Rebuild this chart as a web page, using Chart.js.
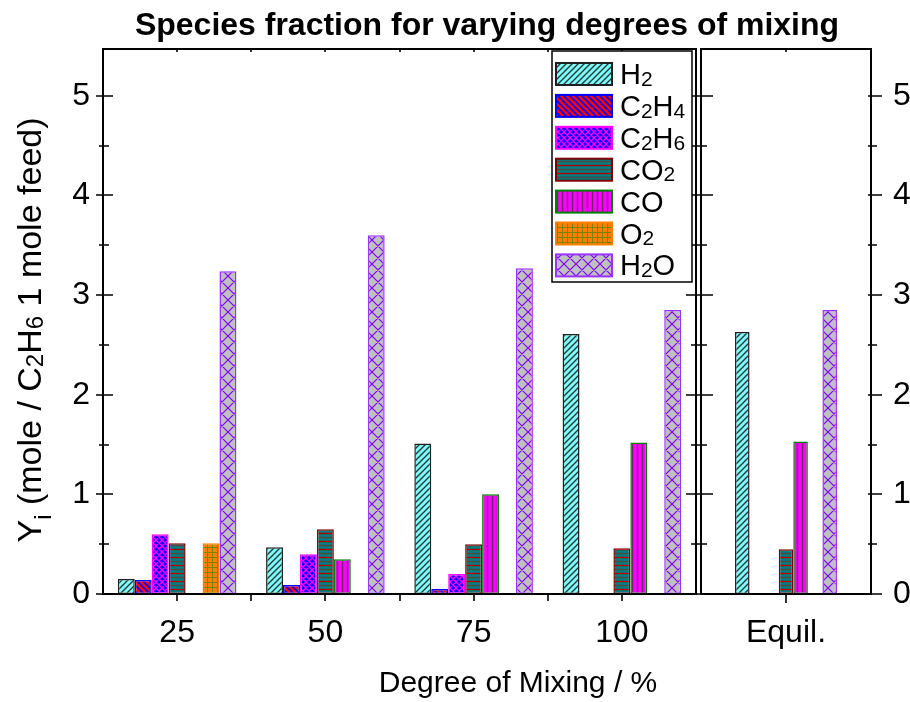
<!DOCTYPE html>
<html>
<head>
<meta charset="utf-8">
<title>Species fraction for varying degrees of mixing</title>
<script src="https://cdn.jsdelivr.net/npm/chart.js@4.4.0/dist/chart.umd.min.js"></script>
<style>
  html, body { margin: 0; padding: 0; background: #fff; }
  #wrap { position: relative; width: 910px; height: 702px; }
  #wrap canvas { position: absolute; left: 0; top: 0; }
</style>
</head>
<body>
<div id="wrap">
  <canvas id="mixChart" width="910" height="702"></canvas>
  <canvas id="equilChart" width="910" height="702"></canvas>
</div>
<script>
// mixing degree (%) categories and the equilibrium column
const mixingLevels = ['25', '50', '75', '100'];
const equilLabels = ['Equil.'];
const species = ['H2', 'C2H4', 'C2H6', 'CO2', 'CO', 'O2', 'H2O'];

// mole per 1 mole C2H6 feed, one value per mixing level
const h2   = [0.15, 0.47, 1.51, 2.61];
const c2h4 = [0.14, 0.09, 0.05, 0];
const c2h6 = [0.60, 0.40, 0.20, 0];
const co2  = [0.51, 0.65, 0.50, 0.46];
const co   = [0, 0.35, 1.00, 1.52];
const o2   = [0.51, 0.005, 0, 0];
const h2o  = [3.24, 3.60, 3.27, 2.85];

// equilibrium composition, same species order
const equilValues = [2.63, 0, 0, 0.45, 1.53, 0, 2.85];

const yMax = 5.47;
const FONT = "'Liberation Sans', Arial, sans-serif";

// hatch fills
function makePattern(bg, fg, kind, size, lw) {
  const c = document.createElement('canvas');
  c.width = c.height = size;
  const g = c.getContext('2d');
  g.fillStyle = bg;
  g.fillRect(0, 0, size, size);
  g.strokeStyle = fg;
  g.lineWidth = lw;
  g.beginPath();
  const s = size;
  if (kind === 'fwd' || kind === 'cross') {
    g.moveTo(-1, s + 1); g.lineTo(s + 1, -1);
    g.moveTo(-1, 1); g.lineTo(1, -1);
    g.moveTo(s - 1, s + 1); g.lineTo(s + 1, s - 1);
  }
  if (kind === 'back' || kind === 'cross') {
    g.moveTo(-1, -1); g.lineTo(s + 1, s + 1);
    g.moveTo(s - 1, -1); g.lineTo(s + 1, 1);
    g.moveTo(-1, s - 1); g.lineTo(1, s + 1);
  }
  if (kind === 'vert' || kind === 'grid') {
    g.moveTo(s / 2, 0); g.lineTo(s / 2, s);
  }
  if (kind === 'grid') {
    g.moveTo(0, s / 2); g.lineTo(s, s / 2);
  }
  g.stroke();
  if (kind === 'horiz2') {
    g.lineWidth = lw;
    g.strokeStyle = '#4a4a4a';
    g.beginPath(); g.moveTo(0, 1.5); g.lineTo(s, 1.5); g.stroke();
    g.strokeStyle = '#b00000';
    g.beginPath(); g.moveTo(0, s / 2 + 1.5); g.lineTo(s, s / 2 + 1.5); g.stroke();
  }
  return g.createPattern(c, 'repeat');
}

const styles = [
  { fill: makePattern('#80ffff', '#203838', 'fwd', 6, 1.4), border: '#202020' },
  { fill: makePattern('#ff0000', '#0000ff', 'back', 6, 1.6), border: '#0000ff' },
  { fill: makePattern('#0000ff', '#ff00ff', 'cross', 6, 1.3), border: '#ff00ff' },
  { fill: makePattern('#008080', '#4a4a4a', 'horiz2', 8, 1.5), border: '#800000' },
  { fill: makePattern('#ff00ff', '#6a2a6a', 'vert', 5, 1.4), border: '#008000' },
  { fill: makePattern('#ff8000', '#808000', 'grid', 5, 1), border: '#ff8000' },
  { fill: makePattern('#c0c0c0', '#8000ff', 'cross', 12, 1.2), border: '#9933ff' }
];

const mixSeries = [h2, c2h4, c2h6, co2, co, o2, h2o];

// text with subscripts: segments of [text, isSub]
function drawRich(ctx, segs, x, y, size, align) {
  const subSize = Math.round(size * 0.72);
  const widthOf = ([t, sub]) => {
    ctx.font = (sub ? subSize : size) + 'px ' + FONT;
    return ctx.measureText(t).width;
  };
  const total = segs.reduce((w, s) => w + widthOf(s), 0);
  let cx = align === 'center' ? x - total / 2 : x;
  ctx.textBaseline = 'alphabetic';
  ctx.textAlign = 'left';
  segs.forEach(seg => {
    const [t, sub] = seg;
    ctx.font = (sub ? subSize : size) + 'px ' + FONT;
    const dy = sub === 2 ? size * 0.28 : sub ? size * 0.06 : 0;
    ctx.fillText(t, cx, y + dy);
    cx += ctx.measureText(t).width;
  });
}

function chemSegs(name) {
  return name.split(/(\d+)/).filter(Boolean).map(p => [p, /\d/.test(p) ? 1 : 0]);
}

// box, tick marks and minor ticks drawn from the chart's scales
function frameTicks(cfg) {
  return {
    id: 'frameTicks',
    afterDraw(chart) {
      const { ctx, chartArea: a } = chart;
      const ys = chart.scales[cfg.yId];
      const xs = chart.scales.x;
      ctx.save();
      ctx.strokeStyle = '#000';
      ctx.lineWidth = 2;
      ctx.strokeRect(a.left, a.top, a.right - a.left, a.bottom - a.top);
      ctx.lineWidth = 1.6;
      ctx.beginPath();
      ys.ticks.forEach(t => {
        if (t.value > 5.001) return;
        const py = Math.round(ys.getPixelForValue(t.value));
        const major = Math.abs(t.value - Math.round(t.value)) < 1e-6;
        cfg.yEdges.forEach(e => {
          const ex = e.side === 'left' ? a.left : a.right;
          const dir = e.side === 'left' ? 1 : -1;
          const [out, inn] = major ? e.major : e.minor;
          ctx.moveTo(ex - dir * out, py);
          ctx.lineTo(ex + dir * inn, py);
        });
      });
      const n = xs.ticks.length;
      for (let i = 0; i < n; i++) {
        const px = Math.round(xs.getPixelForTick(i));
        ctx.moveTo(px, a.bottom); ctx.lineTo(px, a.bottom + cfg.xTick);
        ctx.moveTo(px, a.top); ctx.lineTo(px, a.top + 3);
        if (cfg.between && i < n - 1) {
          const bx = Math.round((xs.getPixelForTick(i) + xs.getPixelForTick(i + 1)) / 2);
          ctx.moveTo(bx, a.bottom); ctx.lineTo(bx, a.bottom + cfg.xTick);
          ctx.moveTo(bx, a.top); ctx.lineTo(bx, a.top + 3);
        }
      }
      ctx.stroke();
      ctx.restore();
    }
  };
}

// title, axis titles and the species key
const decorations = {
  id: 'decorations',
  afterDraw(chart) {
    const { ctx } = chart;
    ctx.save();
    ctx.fillStyle = '#000';
    ctx.textAlign = 'center';
    ctx.textBaseline = 'middle';
    ctx.font = 'bold 32px ' + FONT;
    ctx.fillText('Species fraction for varying degrees of mixing', 487, 26);

    ctx.font = '30px ' + FONT;
    ctx.fillText('Degree of Mixing / %', 518, 684);

    ctx.save();
    ctx.translate(41, 330);
    ctx.rotate(-Math.PI / 2);
    drawRich(ctx, [['Y', 0], ['i', 2], [' (mole / C', 0], ['2', 1], ['H', 0], ['6', 1], [' 1 mole feed)', 0]], 0, 0, 34, 'center');
    ctx.restore();

    // key box
    const bx = 552, by = 51, bw = 140, bh = 231;
    ctx.fillStyle = '#fff';
    ctx.fillRect(bx, by, bw, bh);
    ctx.strokeStyle = '#000';
    ctx.lineWidth = 1.5;
    ctx.strokeRect(bx, by, bw, bh);
    chart.data.datasets.forEach((ds, i) => {
      const ry = 63 + i * 31.9;
      ctx.fillStyle = ds.backgroundColor;
      ctx.fillRect(556, ry, 56, 22);
      ctx.strokeStyle = ds.borderColor;
      ctx.lineWidth = 2;
      ctx.strokeRect(556, ry, 56, 22);
      ctx.fillStyle = '#000';
      drawRich(ctx, chemSegs(ds.label), 620, ry + 21, 29, 'left');
    });
    ctx.restore();
  }
};

function datasetsFor(values) {
  return species.map((name, i) => ({
    label: name,
    data: values[i],
    backgroundColor: styles[i].fill,
    borderColor: styles[i].border,
    borderWidth: 1.5,
    borderSkipped: false
  }));
}

const tickFont = { family: FONT, size: 32 };

new Chart(document.getElementById('mixChart'), {
  type: 'bar',
  data: { labels: mixingLevels, datasets: datasetsFor(mixSeries) },
  options: {
    responsive: false,
    animation: false,
    layout: { padding: { left: 0, top: 49, right: 214, bottom: 0 } },
    datasets: { bar: { categoryPercentage: 0.8, barPercentage: 1.0 } },
    plugins: { legend: { display: false }, tooltip: { enabled: false } },
    scales: {
      x: {
        grid: { display: false, drawTicks: false },
        border: { display: false },
        ticks: { font: tickFont, color: '#000', padding: 20, maxRotation: 0, autoSkip: false },
        afterFit: s => { s.height = 108; }
      },
      y: {
        min: 0, max: yMax,
        grid: { display: false, drawTicks: false },
        border: { display: false },
        ticks: {
          stepSize: 0.5, font: tickFont, color: '#000', padding: 13,
          callback: v => (Number.isInteger(v) ? v : '')
        },
        afterFit: s => { s.width = 103; }
      }
    }
  },
  plugins: [
    frameTicks({
      yId: 'y',
      yEdges: [
        { side: 'left', major: [7, 10], minor: [4, 6] },
        { side: 'right', major: [5, 10], minor: [5, 5] }
      ],
      xTick: 7,
      between: true
    }),
    decorations
  ]
});

new Chart(document.getElementById('equilChart'), {
  type: 'bar',
  data: { labels: equilLabels, datasets: datasetsFor(equilValues.map(v => [v])) },
  options: {
    responsive: false,
    animation: false,
    layout: { padding: { left: 701, top: 49, right: 0, bottom: 0 } },
    datasets: { bar: { categoryPercentage: 0.6, barPercentage: 1.0 } },
    plugins: { legend: { display: false }, tooltip: { enabled: false } },
    scales: {
      x: {
        grid: { display: false, drawTicks: false },
        border: { display: false },
        ticks: { font: tickFont, color: '#000', padding: 20, maxRotation: 0 },
        afterFit: s => { s.height = 108; }
      },
      y: {
        position: 'right',
        min: 0, max: yMax,
        grid: { display: false, drawTicks: false },
        border: { display: false },
        ticks: {
          stepSize: 0.5, font: tickFont, color: '#000', padding: 22,
          callback: v => (Number.isInteger(v) ? v : '')
        },
        afterFit: s => { s.width = 39; }
      }
    }
  },
  plugins: [
    frameTicks({
      yId: 'y',
      yEdges: [
        { side: 'left', major: [0, 12], minor: [0, 6] },
        { side: 'right', major: [11, 3], minor: [6, 3] }
      ],
      xTick: 9,
      between: false
    })
  ]
});
</script>
</body>
</html>
